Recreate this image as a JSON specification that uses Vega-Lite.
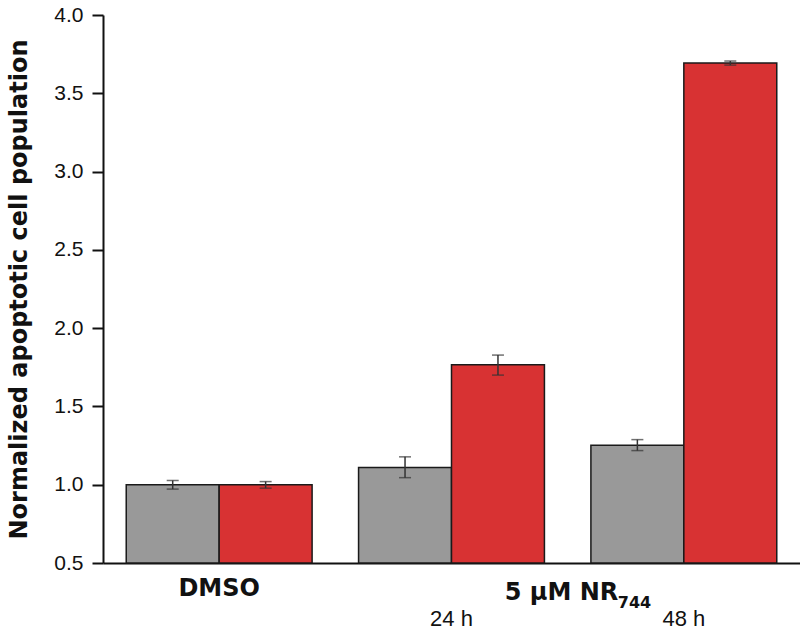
{
  "$schema": "https://vega.github.io/schema/vega-lite/v6.json",
  "autosize": "none",
  "width": 697,
  "height": 548,
  "padding": {"left": 103, "top": 15, "right": 0, "bottom": 69},
  "background": "white",
  "config": {
    "view": {"stroke": null},
    "font": "Liberation Sans",
    "axis": {"grid": false, "domainColor": "#111", "domainWidth": 2, "tickColor": "#111", "tickWidth": 2, "labelColor": "#111", "titleColor": "#111", "labelFont": "Liberation Sans", "titleFont": "DejaVu Sans"}
  },
  "data": {
    "values": [
      {"group": "DMSO", "series": "Set 1", "value": 1.0, "lo": 0.972, "hi": 1.027},
      {"group": "DMSO", "series": "Set 2", "value": 1.0, "lo": 0.978, "hi": 1.02},
      {"group": "24 h", "series": "Set 1", "value": 1.11, "lo": 1.045, "hi": 1.178},
      {"group": "24 h", "series": "Set 2", "value": 1.766, "lo": 1.7, "hi": 1.828},
      {"group": "48 h", "series": "Set 1", "value": 1.252, "lo": 1.218, "hi": 1.288},
      {"group": "48 h", "series": "Set 2", "value": 3.693, "lo": 3.68, "hi": 3.706}
    ]
  },
  "encoding": {
    "xOffset": {"field": "series", "type": "nominal", "sort": ["Set 1", "Set 2"], "scale": {"paddingInner": 0, "paddingOuter": 0}}
  },
  "resolve": {"axis": {"x": "independent"}},
  "layer": [
    {
      "mark": {"type": "bar", "stroke": "#1a1a1a", "strokeWidth": 1.5},
      "encoding": {
        "x": {
          "field": "group",
          "type": "nominal",
          "sort": ["DMSO", "24 h", "48 h"],
          "scale": {"paddingInner": 0.2, "paddingOuter": 0.1},
          "axis": {
            "orient": "bottom",
            "ticks": false,
            "labelAngle": 0,
            "labelPadding": 13,
            "labelExpr": "datum.value == 'DMSO' ? 'DMSO' : ['', datum.value]",
            "labelFont": {"condition": {"test": "datum.value == 'DMSO'", "value": "DejaVu Sans"}, "value": "Liberation Sans"},
            "labelFontSize": {"condition": {"test": "datum.value == 'DMSO'", "value": 24}, "value": 22},
            "labelFontWeight": {"condition": {"test": "datum.value == 'DMSO'", "value": "bold"}, "value": "normal"},
            "labelLineHeight": 32,
            "title": "5  μM NR",
            "titleFontSize": 24,
            "titleFontWeight": "bold",
            "titleX": 458,
            "titleY": 36,
            "titleBaseline": "alphabetic",
            "titleAnchor": "middle",
            "titleAlign": "center"
          }
        },
        "y": {
          "field": "value",
          "type": "quantitative",
          "scale": {"domain": [0.5, 4.0], "zero": false, "nice": false},
          "axis": {
            "values": [0.5, 0.75, 1.0, 1.25, 1.5, 1.75, 2.0, 2.25, 2.5, 2.75, 3.0, 3.25, 3.5, 3.75, 4.0],
            "labelExpr": "(datum.value * 2) % 1 == 0 ? format(datum.value, '.1f') : ''",
            "tickSize": {"condition": {"test": "(datum.value * 2) % 1 == 0", "value": 11}, "value": 6},
            "labelFontSize": 21,
            "labelPadding": 9,
            "title": "Normalized apoptotic cell population",
            "titleFontSize": 24,
            "titleFontWeight": "bold",
            "titlePadding": 22
          }
        },
        "y2": {"datum": 0.5},
        "color": {
          "field": "series",
          "type": "nominal",
          "scale": {"domain": ["Set 1", "Set 2"], "range": ["#999999", "#d83233"]},
          "legend": null
        }
      }
    },
    {
      "mark": {"type": "rule", "color": "#333", "strokeWidth": 1.5},
      "encoding": {
        "x": {
          "field": "group",
          "type": "nominal",
          "sort": ["DMSO", "24 h", "48 h"],
          "axis": {
            "orient": "bottom",
            "domain": false,
            "ticks": false,
            "labels": false,
            "title": "744",
            "titleFontSize": 16,
            "titleFontWeight": "bold",
            "titleX": 531,
            "titleY": 44,
            "titleBaseline": "alphabetic",
            "titleAnchor": "middle",
            "titleAlign": "center"
          }
        },
        "y": {"field": "lo", "type": "quantitative"},
        "y2": {"field": "hi"}
      }
    },
    {
      "mark": {"type": "tick", "color": "#333", "thickness": 1.5, "size": 12},
      "encoding": {
        "x": {"field": "group", "type": "nominal", "sort": ["DMSO", "24 h", "48 h"], "axis": null},
        "y": {"field": "lo", "type": "quantitative"}
      }
    },
    {
      "mark": {"type": "tick", "color": "#333", "thickness": 1.5, "size": 12},
      "encoding": {
        "x": {"field": "group", "type": "nominal", "sort": ["DMSO", "24 h", "48 h"], "axis": null},
        "y": {"field": "hi", "type": "quantitative"}
      }
    }
  ]
}
